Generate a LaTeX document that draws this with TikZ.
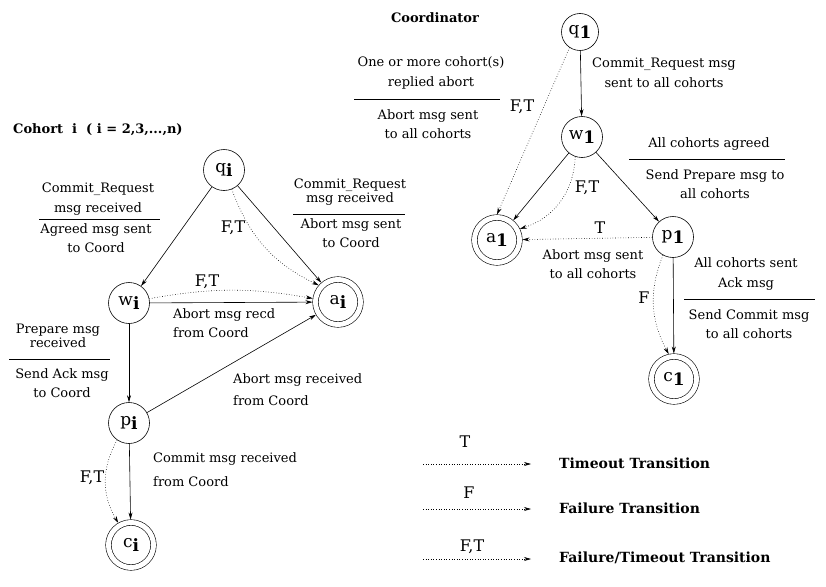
\documentclass[tikz,border=0pt]{standalone}
\usepackage{fontspec}
\setmainfont{DejaVu Serif}
\usepackage{tikz}
\usetikzlibrary{arrows.meta,positioning}
\tikzstyle{state} = [draw, circle, minimum size=41pt, inner sep=0pt,
    line width=0.6pt, font=\fontsize{17}{17}\selectfont]
\tikzstyle{final} = [state, double, double distance=5pt, minimum size=45pt,
    outer sep=3pt]
\tikzstyle{lbl} = [inner sep=1pt, align=center, font=\fontsize{13}{19.5}\selectfont]
\tikzstyle{tag} = [inner sep=1pt, font=\fontsize{16}{18}\selectfont]
\tikzstyle{head} = [inner sep=1pt, font=\bfseries\fontsize{13}{16}\selectfont]
\tikzstyle{legend} = [inner sep=1pt, anchor=west, font=\bfseries\fontsize{14}{16}\selectfont]
\tikzstyle{move} = [-{Stealth[length=7pt,width=4pt]}, line width=0.6pt]
\tikzstyle{fail} = [move, dotted]
\newcommand{\stname}[2]{#1\raisebox{-4pt}{\textbf{#2}}}

\begin{document}
\begin{tikzpicture}[x=1pt, y=-1pt]
  \useasboundingbox (0,0) rectangle (826,586);
  % cohort
  \node [head, anchor=west] (cohort) at (12,130) {Cohort\ \ i\ \ ( i = 2,3,...,n)};
  \node [state] (qi) at (224,170) {\stname{q}{i}};
  \node [state] (wi) at (129,303) {\stname{w}{i}};
  \node [final] (ai) at (338,302) {\stname{a}{i}};
  \node [state] (pi) at (129,423) {\stname{p}{i}};
  \node [final] (ci) at (131,545) {\stname{c}{i}};
  \draw [move] (qi) -- (wi);
  \draw [move] (qi) -- (ai);
  \draw [fail] (qi.-68) to[bend right=22] (ai.139);
  \draw [move] (wi) -- (ai);
  \draw [fail] (wi.12) to[bend left=10] (ai.172);
  \draw [move] (pi) -- (ai);
  \draw [move] (wi) -- (pi);
  \draw [move] (pi) -- (ci);
  \draw [fail] (pi.-125) to[bend right=30] (ci.120);
  \node [lbl] (crw1) at (98,199) {Commit\_Request\\msg received};
  \draw (39,219) -- (160,219);
  \node [lbl] (crw2) at (96,238) {Agreed msg sent\\to Coord};
  \node [lbl] (cra1) at (350,192) {Commit\_Request\\[-5.5pt]msg received};
  \draw (293,214) -- (405,214);
  \node [lbl] (cra2) at (351,233) {Abort msg sent\\to Coord};
  \node [tag] (ftqi) at (233,228) {F,T};
  \node [tag] (ftwi) at (207,282) {F,T};
  \node [lbl, anchor=west, align=left] (arw) at (172,323) {Abort msg recd\\from Coord};
  \node [lbl] (pwr1) at (58,336) {Prepare msg\\[-5.5pt]received};
  \draw (9,359) -- (110,359);
  \node [lbl] (pwr2) at (62,383) {Send Ack msg\\to Coord};
  \node [lbl, anchor=west, align=left] (arp) at (232,390) {Abort msg received\\[2.5pt]from Coord};
  \node [tag] (ftpi) at (92,478) {F,T};
  \node [lbl, anchor=west, align=left] (cmr) at (152,470) {Commit msg received\\[4.5pt]from Coord};
  % coordinator
  \node [head] (coord) at (435,18) {Coordinator};
  \node [state, minimum size=37pt] (q1) at (580,32) {\stname{q}{1}};
  \node [state] (w1) at (582,137) {\stname{w}{1}};
  \node [final] (a1) at (497,240) {\stname{a}{1}};
  \node [state] (p1) at (673,237) {\stname{p}{1}};
  \node [final] (c1) at (674,379) {\stname{c}{1}};
  \draw [move] (q1) -- (w1);
  \draw [fail] (q1.-124) -- (a1.north);
  \draw [move] (w1) -- (a1);
  \draw [fail] (w1.-109) to[bend left=35] (a1.26);
  \draw [move] (w1) -- (p1);
  \draw [fail] (p1) -- (a1);
  \draw [move] (p1) -- (c1);
  \draw [fail] (p1.-119) to[bend right=25] (c1.102);
  \node [tag] (ftq1) at (522,107) {F,T};
  \node [lbl] (one1) at (431,73) {One or more cohort(s)\\replied abort};
  \draw (354,99) -- (500,99);
  \node [lbl] (one2) at (428,124) {Abort msg sent\\to all cohorts};
  \node [lbl] (crs) at (664,73) {Commit\_Request msg\\sent to all cohorts};
  \node [tag] (ftw1) at (587,188) {F,T};
  \node [lbl] (aca1) at (709,144) {All cohorts agreed};
  \draw (629,159) -- (785,159);
  \node [lbl] (aca2) at (715,184) {Send Prepare msg to\\all cohorts};
  \node [tag] (tp1) at (600,228) {T};
  \node [lbl] (abs) at (593,264) {Abort msg sent\\to all cohorts};
  \node [tag] (fp1) at (644,298) {F};
  \node [lbl] (acs1) at (746,274) {All cohorts sent\\Ack msg};
  \draw (684,299) -- (815,299);
  \node [lbl] (acs2) at (749,324) {Send Commit msg\\to all cohorts};
  % legend
  \coordinate (t0) at (423,464);
  \coordinate (t1) at (531,464);
  \coordinate (f0) at (423,509);
  \coordinate (f1) at (531,509);
  \coordinate (ft0) at (423,559);
  \coordinate (ft1) at (531,559);
  \draw [fail] (t0) -- (t1);
  \draw [fail] (f0) -- (f1);
  \draw [fail] (ft0) -- (ft1);
  \node [tag] (tl) at (465,442) {T};
  \node [tag] (fl) at (469,493) {F};
  \node [tag] (ftl) at (472,547) {F,T};
  \node [legend] (tt) at (558,463) {Timeout Transition};
  \node [legend] (ft) at (558,508) {Failure Transition};
  \node [legend] (ftt) at (558,558) {Failure/Timeout Transition};
\end{tikzpicture}
\end{document}
